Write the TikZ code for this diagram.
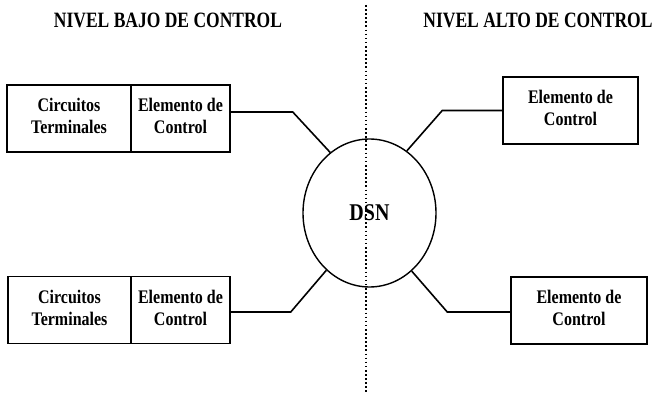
\documentclass[tikz,border=0pt]{standalone}
\usepackage{fontspec}
\setmainfont{Liberation Serif}
\usetikzlibrary{shapes.geometric}
\newcommand\tallbox[1]{\scalebox{1}[1.2]{\begin{tabular}{@{}c@{}}#1\end{tabular}}}
\begin{document}
\begin{tikzpicture}[x=1pt,y=-1pt,
  box/.style={draw,line width=1.5pt,rectangle,minimum height=67pt,inner sep=0pt,
    align=center,font=\fontsize{16}{18.3}\selectfont\bfseries},
  conn/.style={line width=1.6pt,line join=miter},
  title/.style={font=\fontsize{17.5}{20}\selectfont\bfseries,inner sep=0pt},
  sep/.style={line width=1.4pt,dash pattern=on 1.6pt off 2.5pt}]
\useasboundingbox (0,0) rectangle (653,393);
% titles
\node[title] (tl) at (168,20) {\scalebox{1}[1.25]{NIVEL BAJO DE CONTROL}};
\node[title] (tr) at (538,20) {\scalebox{1}[1.25]{NIVEL ALTO DE CONTROL}};
% separator
\coordinate (st) at (366,5);
\coordinate (sb) at (366,393);
% DSN
\node[draw,ellipse,line width=1.4pt,minimum width=133pt,minimum height=148pt,inner sep=0pt,
  font=\fontsize{20}{24}\selectfont\bfseries] (dsn) at (369.5,213) {\scalebox{1}[1.2]{DSN}};
\draw[sep] (st) -- (sb);
% boxes
\node[box,minimum width=124pt] (ulct) at (69,118.5) {\tallbox{Circuitos\\Terminales}};
\node[box,minimum width=99pt] (ulce) at (180.5,118.5) {\tallbox{Elemento de\\Control}};
\node[box,minimum width=123pt] (llct) at (69.5,310) {\tallbox{Circuitos\\Terminales}};
\node[box,minimum width=99pt] (llce) at (180.5,310) {\tallbox{Elemento de\\Control}};
\node[box,minimum width=135pt] (urce) at (570.5,110.5) {\tallbox{Elemento de\\Control}};
\node[box,minimum width=136pt] (lrce) at (579,310.5) {\tallbox{Elemento de\\Control}};
% connectors
\draw[conn] ([yshift=6.5pt]ulce.east) -- ++(62,0) -- (dsn.123.4);
\draw[conn] (urce.west) -- ++(-60,0) -- (dsn.59.4);
\draw[conn] ([yshift=-2pt]llce.east) -- ++(60,0) -- (dsn.233);
\draw[conn] ([yshift=-1.5pt]lrce.west) -- ++(-63,0) -- (dsn.306);
\end{tikzpicture}
\end{document}
